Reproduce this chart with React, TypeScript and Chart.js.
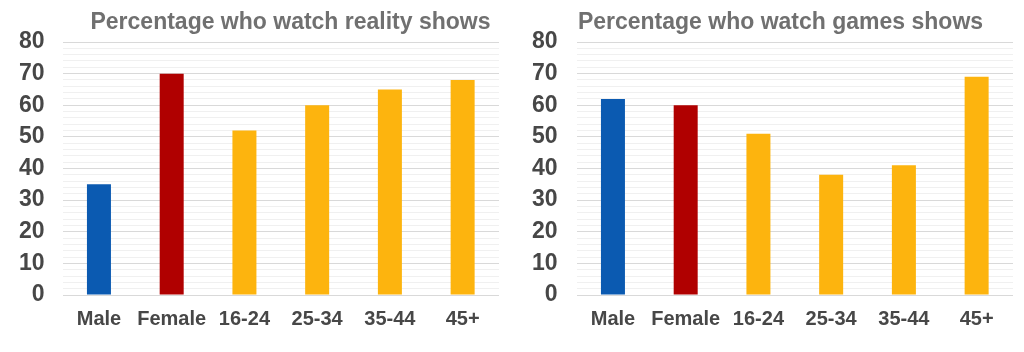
import React, { useEffect, useRef } from "react";
import { Chart, registerables } from "chart.js";

Chart.register(...registerables);

const categories = ["Male", "Female", "16-24", "25-34", "35-44", "45+"];
const realityValues = [35, 70, 52, 60, 65, 68];
const gamesValues = [62, 60, 51, 38, 41, 69];
const barColors = ["#0B5AB1", "#B00000", "#FDB40E", "#FDB40E", "#FDB40E", "#FDB40E"];
const realityTitle = "Percentage who watch reality shows";
const gamesTitle = "Percentage who watch games shows";

const FONT = "'Liberation Sans', Arial, sans-serif";

type Props = {
  values: number[];
  title: string;
  titleX: number;
  padLeft: number;
  padRight: number;
  yTickPad: number;
};

function BarPanel({ values, title, titleX, padLeft, padRight, yTickPad }: Props) {
  const ref = useRef<HTMLCanvasElement | null>(null);
  useEffect(() => {
    if (!ref.current) return;
    const titlePlugin = {
      id: "customTitle",
      afterDraw(chart: any) {
        const ctx = chart.ctx;
        ctx.save();
        ctx.font = `bold 23px ${FONT}`;
        ctx.fillStyle = "#707070";
        ctx.textAlign = "center";
        ctx.textBaseline = "alphabetic";
        ctx.fillText(title, titleX, 28.5);
        ctx.restore();
      },
    };
    const chart = new Chart(ref.current, {
      type: "bar",
      data: {
        labels: categories,
        datasets: [
          {
            data: values,
            backgroundColor: barColors,
            borderWidth: 0,
            categoryPercentage: 1,
            barPercentage: 0.33,
          },
        ],
      },
      options: {
        responsive: false,
        animation: false,
        layout: { padding: { top: 42, left: padLeft, right: padRight, bottom: 17 } },
        plugins: { legend: { display: false }, tooltip: { enabled: false }, title: { display: false } },
        scales: {
          x: {
            grid: { display: false },
            border: { display: false },
            ticks: {
              color: "#474747",
              font: { family: FONT, size: 20, weight: "bold" },
              padding: 4,
              maxRotation: 0,
              autoSkip: false,
            },
          },
          y: {
            min: 0,
            max: 80,
            border: { display: false },
            grid: {
              drawTicks: false,
              color: (c: any) => (c.tick && c.tick.value % 10 === 0 ? "#d9d9d9" : "#f0f0f0"),
              lineWidth: 1,
            },
            ticks: {
              stepSize: 2,
              maxTicksLimit: 100,
              autoSkip: false,
              padding: yTickPad,
              color: "#474747",
              font: { family: FONT, size: 23, weight: "bold" },
              callback: (v: any) => (Number(v) % 10 === 0 ? String(v) : ""),
            },
          },
        },
      },
      plugins: [titlePlugin],
    });
    return () => chart.destroy();
  }, [values, title, titleX, padLeft, padRight, yTickPad]);
  return (
    <canvas
      ref={ref}
      width={512}
      height={352}
      style={{ width: 512, height: 352, display: "block" }}
    />
  );
}

export default function App() {
  return (
    <div
      style={{
        position: "absolute",
        left: 0,
        top: 0,
        width: 1024,
        height: 352,
        background: "#ffffff",
        display: "flex",
      }}
    >
      <BarPanel values={realityValues} title={realityTitle} titleX={290.5} padLeft={1} padRight={13} yTickPad={18} />
      <BarPanel values={gamesValues} title={gamesTitle} titleX={268.5} padLeft={1} padRight={11} yTickPad={19} />
    </div>
  );
}
